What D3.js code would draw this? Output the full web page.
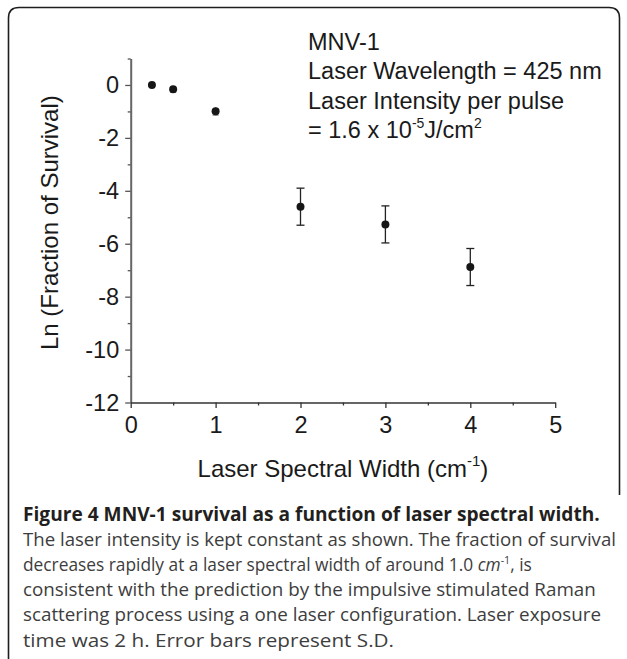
<!DOCTYPE html>
<html>
<head>
<meta charset="utf-8">
<script src="https://cdn.jsdelivr.net/npm/d3@7/dist/d3.min.js"></script>
<style>
  html, body { margin: 0; padding: 0; background: #fff; }
  svg { display: block; }
</style>
</head>
<body>
<script>
// ---- data ----
const widths = [0.25, 0.5, 1, 2, 3, 4];                   // laser spectral width (cm^-1)
const lnSurvival = [0, -0.16, -0.99, -4.6, -5.27, -6.88];  // ln(fraction of survival)
const sdValues = [0.05, 0.12, 0.15, 0.7, 0.7, 0.7];        // S.D.
const xMajorTicks = [0, 1, 2, 3, 4, 5];
const xMinorTicks = [0.5, 1.5, 2.5, 3.5, 4.5];
const yMajorTicks = [0, -2, -4, -6, -8, -10, -12];
const yMinorTicks = [1, -1, -3, -5, -7, -9, -11];
const annotationLines = ["MNV-1", "Laser Wavelength = 425 nm", "Laser Intensity per pulse"];
const captionTitle = "Figure 4 MNV-1 survival as a function of laser spectral width.";
const captionBody = [
  "The laser intensity is kept constant as shown. The fraction of survival",
  ["decreases rapidly at a laser spectral width of around 1.0 ", "cm", "-1", ", is"],
  "consistent with the prediction by the impulsive stimulated Raman",
  "scattering process using a one laser configuration. Laser exposure",
  "time was 2 h. Error bars represent S.D."
];
// right end of each caption line in the reference (title first)
const captionLineEnds = [600, 616, 532, 596, 601, 394];

const W = 627, H = 659;
const svg = d3.select("body").append("svg").attr("width", W).attr("height", H);

// frame
svg.append("path")
  .attr("d", "M8.5,659 L8.5,18 Q8.5,7.5 19,7.5 L609,7.5 Q619.5,7.5 619.5,18 L619.5,495")
  .attr("fill", "none").attr("stroke", "#1e1e1e").attr("stroke-width", 1.6);

const x = d3.scaleLinear().domain([0, 5]).range([130.7, 555.2]);
const y = d3.scaleLinear().domain([-12, 1]).range([402.5, 58.5]);

const chartFont = "'Liberation Sans', Arial, Helvetica, sans-serif";
const tickSize = 23.5;

// y axis
const gy = svg.append("g").attr("transform", `translate(${x(0)},0)`);
gy.call(d3.axisLeft(y).tickValues(yMajorTicks).tickSize(5.5).tickSizeOuter(0).tickPadding(6)
  .tickFormat(d => d === 0 ? "0" : "-" + Math.abs(d)));
gy.select(".domain").attr("stroke", "#666").attr("stroke-width", 2);
gy.selectAll(".tick line").attr("stroke", "#555").attr("stroke-width", 1.3);
gy.selectAll(".tick text").attr("font-family", chartFont).attr("font-size", tickSize).attr("fill", "#1a1a1a");
const gyMinor = svg.append("g").attr("transform", `translate(${x(0)},0)`);
gyMinor.call(d3.axisLeft(y).tickValues(yMinorTicks).tickSize(3).tickSizeOuter(0).tickFormat(""));
gyMinor.select(".domain").remove();
gyMinor.selectAll(".tick line").attr("stroke", "#555").attr("stroke-width", 1.3);

// x axis
const gx = svg.append("g").attr("transform", `translate(0,${y(-12)})`);
gx.call(d3.axisBottom(x).tickValues(xMajorTicks).tickSize(5.5).tickSizeOuter(0).tickPadding(8)
  .tickFormat(d3.format("d")));
gx.select(".domain").attr("stroke", "#333").attr("stroke-width", 1.6);
gx.selectAll(".tick line").attr("stroke", "#333").attr("stroke-width", 1.3);
gx.selectAll(".tick text").attr("font-family", chartFont).attr("font-size", tickSize).attr("fill", "#1a1a1a");
const gxMinor = svg.append("g").attr("transform", `translate(0,${y(-12)})`);
gxMinor.call(d3.axisBottom(x).tickValues(xMinorTicks).tickSize(3).tickSizeOuter(0).tickFormat(""));
gxMinor.select(".domain").remove();
gxMinor.selectAll(".tick line").attr("stroke", "#333").attr("stroke-width", 1.3);

// data
const data = widths.map((w, i) => ({ w, v: lnSurvival[i], sd: sdValues[i] }));
const eb = svg.append("g").attr("stroke", "#222").attr("stroke-width", 1.3);
data.forEach(d => {
  if (d.sd > 0.3) {
    eb.append("line").attr("x1", x(d.w)).attr("x2", x(d.w)).attr("y1", y(d.v + d.sd)).attr("y2", y(d.v - d.sd));
    [d.v + d.sd, d.v - d.sd].forEach(e =>
      eb.append("line").attr("x1", x(d.w) - 4).attr("x2", x(d.w) + 4).attr("y1", y(e)).attr("y2", y(e)));
  } else {
    eb.append("line").attr("x1", x(d.w)).attr("x2", x(d.w)).attr("y1", y(d.v + d.sd)).attr("y2", y(d.v - d.sd))
      .attr("stroke", "#777");
    eb.append("line").attr("x1", x(d.w) - 3).attr("x2", x(d.w) + 3).attr("y1", y(d.v - d.sd)).attr("y2", y(d.v - d.sd))
      .attr("stroke", "#888");
  }
});
svg.append("g").selectAll("circle").data(data).join("circle")
  .attr("cx", d => x(d.w)).attr("cy", d => y(d.v)).attr("r", 4).attr("fill", "#161616");

// axis titles
svg.append("text").attr("x", x(2.5)).attr("y", 477).attr("text-anchor", "middle")
  .attr("font-family", chartFont).attr("font-size", 24).attr("fill", "#1a1a1a")
  .call(t => {
    t.append("tspan").text("Laser Spectral Width (cm");
    t.append("tspan").attr("font-size", 15).attr("dy", -11).text("-1");
    t.append("tspan").attr("dy", 11).text(")");
  });
svg.append("text").attr("transform", `translate(58,350) rotate(-90)`).attr("text-anchor", "start")
  .attr("font-family", chartFont).attr("font-size", 24).attr("fill", "#1a1a1a")
  .text("Ln (Fraction of Survival)");

// annotation
const annSize = 23.5;
const ann = svg.append("g").attr("font-family", chartFont).attr("font-size", annSize).attr("fill", "#1a1a1a");
annotationLines.forEach((s, i) => ann.append("text").attr("x", 308).attr("y", 50 + i * 29.3).text(s));
ann.append("text").attr("x", 308).attr("y", 50 + 3 * 29.3).call(t => {
  t.append("tspan").text("= 1.6 x 10");
  t.append("tspan").attr("font-size", 14).attr("dy", -10).text("-5");
  t.append("tspan").attr("dy", 10).text("J/cm");
  t.append("tspan").attr("font-size", 14).attr("dy", -10).text("2");
});

// caption
const capFont = "'Open Sans', 'Noto Sans', sans-serif";
const cap = svg.append("g").attr("font-family", capFont);
const capX = 23;

function fitLine(textSel, baseY, target) {
  // text drawn at origin, then placed and scaled horizontally to the reference line width
  const wNat = textSel.node().getComputedTextLength();
  const sx = target / wNat;
  textSel.attr("x", 0).attr("y", 0).attr("transform", `translate(${capX},${baseY}) scale(${sx},1)`);
}

const titleText = cap.append("text").attr("font-size", 18).attr("font-weight", "bold")
  .attr("fill", "#231f20").text(captionTitle);
titleText.attr("font-size", 18 * (captionLineEnds[0] - capX) / titleText.node().getComputedTextLength());
fitLine(titleText, 520.5, captionLineEnds[0] - capX);

const probe = cap.append("text").attr("font-size", 18).text(captionBody[0]);
const bodySize = 18 * (captionLineEnds[1] - capX) / probe.node().getComputedTextLength();
probe.remove();

captionBody.forEach((line, i) => {
  const t = cap.append("text").attr("font-size", bodySize).attr("fill", "#3d3d3d");
  if (typeof line === "string") t.text(line);
  else {
    t.append("tspan").text(line[0]);
    t.append("tspan").attr("font-style", "italic").text(line[1]);
    t.append("tspan").attr("font-size", bodySize * 0.62).attr("dy", -7).text(line[2]);
    t.append("tspan").attr("dy", 7).text(line[3]);
  }
  fitLine(t, 546 + i * 25.15, captionLineEnds[i + 1] - capX);
});
</script>
</body>
</html>
